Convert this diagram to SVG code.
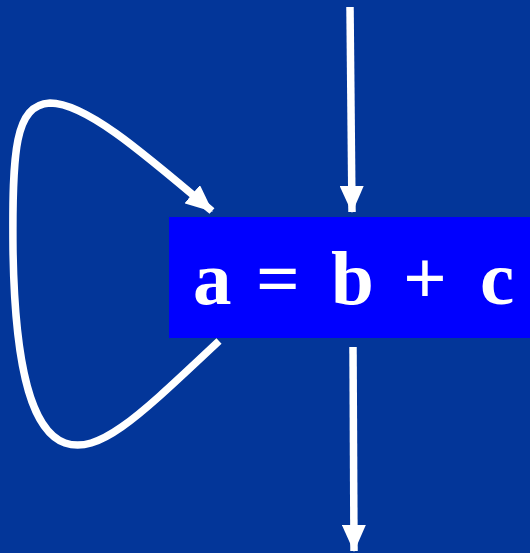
<svg xmlns="http://www.w3.org/2000/svg" width="530" height="553" viewBox="0 0 530 553">
<defs>
<style>
.conn{fill:none;stroke:#ffffff;stroke-width:7.5}
.lbl{font-family:"Liberation Serif","Times New Roman",serif;font-weight:bold;font-size:77px;fill:#ffffff}
</style>
<marker id="ah" viewBox="0 0 27 24" refX="26" refY="12" markerWidth="27" markerHeight="24" orient="auto" markerUnits="userSpaceOnUse">
<path d="M0,0 L27,12 L0,24 Z" fill="#ffffff"/>
</marker>
</defs>
<rect width="530" height="553" fill="#033699"/>
<g id="connectors">
<path class="conn" d="M350,7 L352,212" marker-end="url(#ah)"/>
<path class="conn" d="M353,347 L354,551" marker-end="url(#ah)"/>
<path class="conn" d="M219,341 C140,415 100,455 65,443 C35,432 15,380 13,250 C12,150 15,105 50,103 C85,103 140,150 212,211" marker-end="url(#ah)"/>
</g>
<g id="node">
<rect x="169" y="217" width="361" height="121" fill="#0000ff"/>
<text class="lbl" x="193 229 256 302 331 373 403 449 480" y="304">a = b + c</text>
</g>
</svg>
